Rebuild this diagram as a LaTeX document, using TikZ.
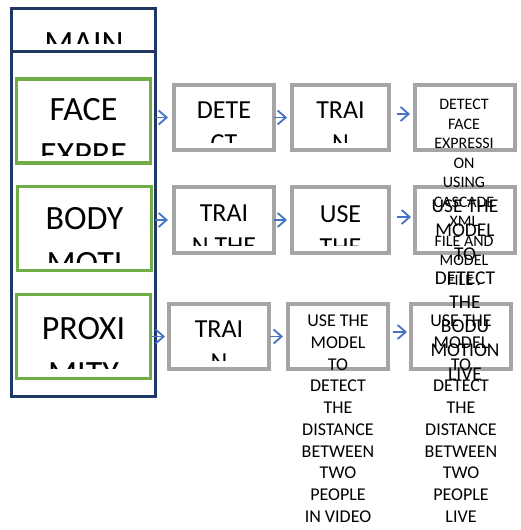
\documentclass[tikz,border=0pt]{standalone}
\usepackage{fontspec}
\setmainfont{Carlito}
\usetikzlibrary{arrows.meta}
\definecolor{frameblue}{HTML}{203864}
\definecolor{leafgreen}{HTML}{70AD47}
\definecolor{boxgray}{HTML}{A5A5A5}
\definecolor{arrowblue}{HTML}{4472C4}
\begin{document}
\begin{tikzpicture}[x=1pt,y=-1pt,
  greenbox/.style={draw=leafgreen,line width=3.2pt,fill=white,inner sep=0pt,
    minimum width=134pt,minimum height=84pt},
  graybox/.style={draw=boxgray,line width=4pt,fill=white,inner sep=0pt,
    minimum width=100pt,minimum height=65pt},
  bigtxt/.style={inner sep=0pt,anchor=north,align=center,
    font=\fontsize{34}{45}\selectfont},
  midtxt/.style={inner sep=0pt,anchor=north,align=center,
    font=\fontsize{26}{33}\selectfont},
  smalltxt/.style={inner sep=0pt,anchor=north,align=center,
    font=\fontsize{16}{19.5}\selectfont},
  bodutxt/.style={inner sep=0pt,anchor=north,align=center,
    font=\fontsize{19.5}{24}\selectfont},
  disttxt/.style={inner sep=0pt,anchor=north,align=center,
    font=\fontsize{18}{21.7}\selectfont},
  arr/.style={draw=arrowblue,line width=1.8pt,
    -{Straight Barb[length=8pt,width=14pt,line width=1.8pt]}},
]
\useasboundingbox[fill=white] (0,0) rectangle (520,530);

% outer frame with its header
\node[draw=frameblue,line width=3pt,fill=white,inner sep=0pt,
  minimum width=144pt,minimum height=388pt] (frame) at (83.5,202.5) {};
\coordinate (sepl) at (11.5,51.5);
\coordinate (sepr) at (155.5,51.5);
\draw[frameblue,line width=3pt] (sepl) -- (sepr);

% category boxes
\node[greenbox] (face) at (83.5,121) {};
\node[greenbox] (body) at (84.5,228.5) {};
\node[greenbox] (prox) at (83.5,336.5) {};

% step boxes
\node[graybox] (fa) at (224,117.5) {};
\node[graybox,minimum width=97pt] (fb) at (340.5,117.5) {};
\node[graybox] (fc) at (465,117.5) {};
\node[graybox,minimum height=66pt] (ba) at (224,220) {};
\node[graybox,minimum width=97pt,minimum height=66pt] (bb) at (340.5,220) {};
\node[graybox,minimum height=66pt] (bc) at (465,220) {};
\node[graybox] (pa) at (219,336.5) {};
\node[graybox] (pb) at (338,336.5) {};
\node[graybox] (pc) at (461,336.5) {};

% connectors
\draw[arr,shorten <=3pt,shorten >=4pt] (fa.west -| face.east) -- (fa.west);
\draw[arr,shorten <=-2pt,shorten >=3pt] (fa.east) -- (fb.west);
\draw[arr,shorten <=6pt,shorten >=3pt] ([yshift=3.5pt]fb.east) -- ([yshift=3.5pt]fc.west);
\draw[arr,shorten <=2pt,shorten >=4pt] (ba.west -| body.east) -- (ba.west);
\draw[arr,shorten <=-2pt,shorten >=3pt] (ba.east) -- (bb.west);
\draw[arr,shorten <=6pt,shorten >=2pt] ([yshift=3pt]bb.east) -- ([yshift=3pt]bc.west);
\draw[arr,shorten <=0pt,shorten >=2pt] (pa.west -| prox.east) -- (pa.west);
\draw[arr,shorten <=-1pt,shorten >=3pt] (pa.east) -- (pb.west);
\draw[arr,shorten <=3pt,shorten >=2pt] ([yshift=4.5pt]pb.east) -- ([yshift=4.5pt]pc.west);

% labels cut off at the foot of their boxes
\begin{scope}
  \clip (12,10) rectangle (155,43);
  \node[bigtxt] (maintxt) at (84,32) {MAIN};
\end{scope}
\begin{scope}
  \clip (15,80) rectangle (152,155);
  \node[bigtxt] (facetxt) at (83.5,98) {FACE\\EXPRE};
\end{scope}
\begin{scope}
  \clip (16,187) rectangle (153,262);
  \node[bigtxt] (bodytxt) at (84.5,207) {BODY\\MOTI};
\end{scope}
\begin{scope}
  \clip (15,295) rectangle (152,368);
  \node[bigtxt] (proxtxt) at (83.5,317) {PROXI\\MITY};
\end{scope}
\begin{scope}
  \clip (172,85) rectangle (276,142);
  \node[midtxt] (fatxt) at (224,102) {DETE\\CT};
\end{scope}
\begin{scope}
  \clip (290,85) rectangle (391,142);
  \node[midtxt] (fbtxt) at (340.5,102) {TRAI\\N};
\end{scope}
\begin{scope}
  \clip (172,187) rectangle (276,245);
  \node[midtxt] (batxt) at (224,205) {TRAI\\N THE};
\end{scope}
\begin{scope}
  \clip (290,187) rectangle (391,245);
  \node[midtxt] (bbtxt) at (340.5,205) {USE\\THE};
\end{scope}
\begin{scope}
  \clip (167,304) rectangle (271,360);
  \node[midtxt] (patxt) at (219,321) {TRAI\\N};
\end{scope}

% labels running past their boxes
\node[smalltxt] (fctxt) at (464,99)
  {DETECT\\FACE\\EXPRESSI\\ON\\USING\\CASCADE\\XML\\FILE AND\\MODEL\\FILE .};
\node[bodutxt] (bctxt) at (465,200)
  {USE THE\\MODEL\\TO\\DETECT\\THE\\BODU\\MOTION\\LIVE};
\node[disttxt] (pbtxt) at (338,315)
  {USE THE\\MODEL\\TO\\DETECT\\THE\\DISTANCE\\BETWEEN\\TWO\\PEOPLE\\IN VIDEO};
\node[disttxt] (pctxt) at (461,315)
  {USE THE\\MODEL\\TO\\DETECT\\THE\\DISTANCE\\BETWEEN\\TWO\\PEOPLE\\LIVE};
\end{tikzpicture}
\end{document}
